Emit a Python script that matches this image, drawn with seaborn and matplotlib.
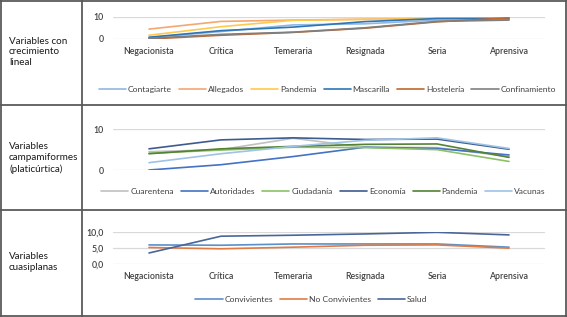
import numpy as np
import pandas as pd
import matplotlib
matplotlib.use("Agg")
import matplotlib.pyplot as plt
from matplotlib.lines import Line2D
import seaborn as sns

sns.set_theme(style="white")
plt.rcParams['font.family'] = ['Lato', 'DejaVu Sans']

categories = ["Negacionista", "Crítica", "Temeraria", "Resignada", "Seria", "Aprensiva"]

# Row 1: Variables con crecimiento lineal
r1_names = ["Contagiarte", "Allegados", "Pandemia", "Mascarilla", "Hostelería", "Confinamiento"]
contagiarte = [0.6, 3.4, 6.4, 6.9, 8.6, 8.8]
allegados = [4.5, 8.0, 8.6, 9.0, 9.3, 9.7]
pandemia_1 = [1.7, 5.6, 8.5, 8.9, 9.2, 9.5]
mascarilla = [0.8, 3.8, 5.4, 7.9, 9.3, 9.3]
hosteleria = [0.0, 1.7, 3.0, 4.9, 7.8, 9.6]
confinamiento = [0.3, 2.1, 3.1, 5.1, 8.0, 8.6]
r1_values = [contagiarte, allegados, pandemia_1, mascarilla, hosteleria, confinamiento]
r1_colors = ["#8FB8E3", "#F4A772", "#FFC94A", "#2E75B6", "#C0682E", "#7F7F7F"]

# Row 2: Variables campamiformes (platicúrtica)
r2_names = ["Cuarentena", "Autoridades", "Ciudadanía", "Economía", "Pandemia", "Vacunas"]
cuarentena = [4.5, 5.0, 7.8, 5.6, 5.5, 3.3]
autoridades = [0.0, 1.3, 3.3, 5.6, 5.3, 3.7]
ciudadania = [4.1, 4.9, 5.6, 5.5, 5.0, 2.1]
economia = [5.2, 7.4, 7.9, 7.5, 7.6, 5.1]
pandemia_2 = [4.0, 5.2, 5.8, 6.3, 6.4, 3.1]
vacunas = [1.8, 4.0, 5.8, 7.3, 7.9, 5.3]
r2_values = [cuarentena, autoridades, ciudadania, economia, pandemia_2, vacunas]
r2_colors = ["#C0C0C0", "#4472C4", "#8CC168", "#3E5B8F", "#548235", "#9DC3E6"]

# Row 3: Variables cuasiplanas
r3_names = ["Convivientes", "No Convivientes", "Salud"]
convivientes = [6.0, 5.9, 6.3, 6.3, 6.3, 5.3]
no_convivientes = [5.2, 4.8, 5.3, 5.9, 6.0, 5.0]
salud = [3.5, 8.7, 9.0, 9.4, 9.9, 9.1]
r3_values = [convivientes, no_convivientes, salud]
r3_colors = ["#5B8FC9", "#E07B45", "#4A6699"]

row_labels = ["Variables con\ncrecimiento\nlineal",
              "Variables\ncampamiformes\n(platicúrtica)",
              "Variables\ncuasiplanas"]

W, H = 567, 317
fig = plt.figure(figsize=(W / 100, H / 100), dpi=100)
fig.patch.set_facecolor("white")

bg = fig.add_axes([0, 0, 1, 1])
bg.set_xlim(0, W)
bg.set_ylim(H, 0)
bg.axis("off")
bc = "#5a5a5a"
lw = 1.3
for y in [1, 105, 210, 316]:
    bg.plot([0, W], [y, y], color=bc, lw=lw, solid_capstyle="butt")
for x in [1, 82, 566]:
    bg.plot([x, x], [0, H], color=bc, lw=lw, solid_capstyle="butt")

label_y = [52, 158, 262]
for t, y in zip(row_labels, label_y):
    bg.text(9, y, t, fontsize=7.1, color="#1a1a1a",
            va="center", ha="left", linespacing=1.25)


def rect(x0, x1, ytop, ybot):
    return [x0 / W, 1 - ybot / H, (x1 - x0) / W, (ybot - ytop) / H]


def make_df(names, values):
    rows = []
    for n, vals in zip(names, values):
        for c, v in zip(categories, vals):
            rows.append({"cat": c, "serie": n, "valor": v})
    df = pd.DataFrame(rows)
    df["cat"] = pd.Categorical(df["cat"], categories=categories, ordered=True)
    return df


specs = [
    dict(names=r1_names, values=r1_values, colors=r1_colors, r=(113, 545, 17, 39),
         yt=[0, 10], ytl=["0", "10"], xlab=True, leg=(327.5, 89.7)),
    dict(names=r2_names, values=r2_values, colors=r2_colors, r=(113, 545, 129.3, 170),
         yt=[0, 10], ytl=["0", "10"], xlab=False, leg=(323.5, 191.7)),
    dict(names=r3_names, values=r3_values, colors=r3_colors, r=(113, 545, 232, 264.3),
         yt=[0, 5, 10], ytl=["0,0", "5,0", "10,0"], xlab=True, leg=(311.5, 299.3)),
]

tick_color = "#404040"
for s in specs:
    ax = fig.add_axes(rect(*s["r"]))
    ax.set_facecolor("none")
    df = make_df(s["names"], s["values"])
    df["x"] = df["cat"].cat.codes
    for yv in s["yt"]:
        ax.axhline(yv, color="#D9D9D9", lw=0.9, zorder=0)
    sns.lineplot(data=df, x="x", y="valor", hue="serie", hue_order=s["names"],
                 palette=s["colors"], linewidth=1.2, ax=ax, legend=False,
                 sort=False)
    ax.set_xlim(-0.5, 5.5)
    ax.set_ylim(0, 10)
    ax.set_yticks(s["yt"])
    ax.set_yticklabels(s["ytl"])
    ax.set_xticks(range(len(categories)))
    if s["xlab"]:
        ax.set_xticklabels(categories)
    else:
        ax.set_xticklabels([])
    ax.tick_params(axis="both", length=0, labelsize=6.3, colors=tick_color)
    ax.tick_params(axis="y", pad=6.5)
    ax.tick_params(axis="x", pad=5.5)
    for lab in ax.get_xticklabels() + ax.get_yticklabels():
        lab.set_fontweight("semibold")
    ax.set_xlabel("")
    ax.set_ylabel("")
    ax.grid(False)
    for sp in ax.spines.values():
        sp.set_visible(False)
    handles = [Line2D([0], [0], color=c, lw=1.2) for c in s["colors"]]
    lx, ly = s["leg"]
    leg = fig.legend(handles, s["names"], loc="center", ncol=len(handles),
                     bbox_to_anchor=(lx / W, 1 - ly / H), frameon=False,
                     fontsize=6.1, handlelength=3.2, handletextpad=0.25,
                     columnspacing=0.8, borderaxespad=0, borderpad=0)
    for t in leg.get_texts():
        t.set_color(tick_color)

fig.savefig("out.png", dpi=100, facecolor="white")
